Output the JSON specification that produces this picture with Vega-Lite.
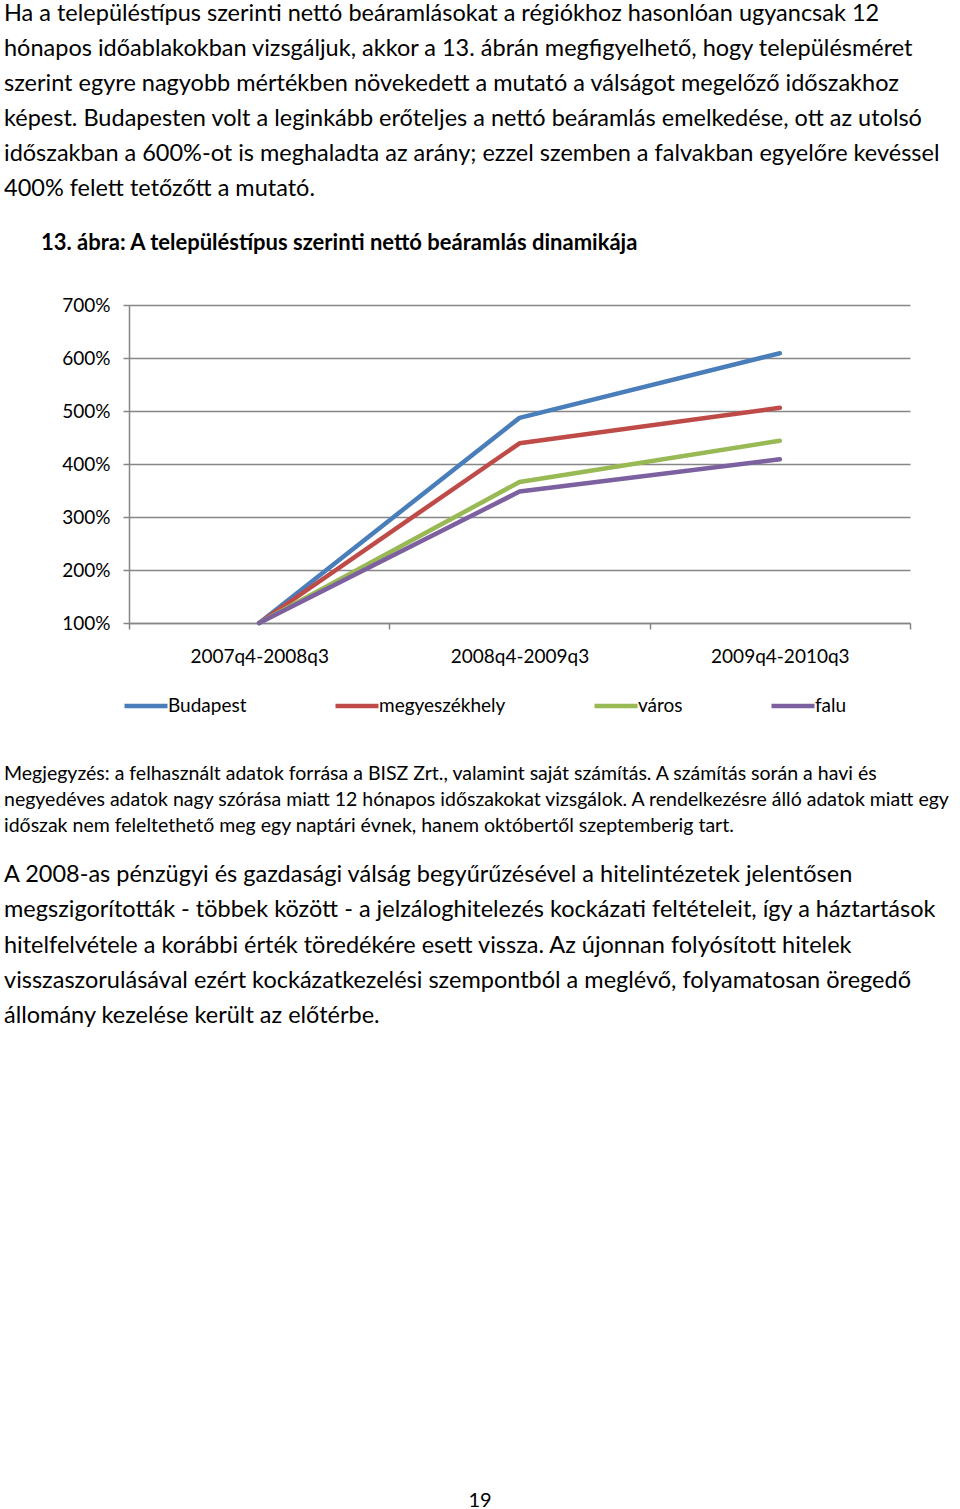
{
  "$schema": "https://vega.github.io/schema/vega-lite/v6.json",
  "background": "white",
  "padding": {"left": 4, "top": 0, "right": 0, "bottom": 0},
  "spacing": 0,
  "bounds": "flush",
  "config": {"view": {"stroke": null}, "font": "Lato"},
  "vconcat": [
    {
      "width": 781,
      "height": 305,
      "data": {"values": [
        {"line": 1, "text": "Ha a településtípus szerinti nettó beáramlásokat a régiókhoz hasonlóan ugyancsak 12"},
        {"line": 2, "text": "hónapos időablakokban vizsgáljuk, akkor a 13. ábrán megfigyelhető, hogy településméret"},
        {"line": 3, "text": "szerint egyre nagyobb mértékben növekedett a mutató a válságot megelőző időszakhoz"},
        {"line": 4, "text": "képest. Budapesten volt a leginkább erőteljes a nettó beáramlás emelkedése, ott az utolsó"},
        {"line": 5, "text": "időszakban a 600%-ot is meghaladta az arány; ezzel szemben a falvakban egyelőre kevéssel"},
        {"line": 6, "text": "400% felett tetőzőtt a mutató."}
      ]},
      "mark": {"type": "text", "align": "left", "baseline": "middle", "fontSize": 23.5, "font": "Lato", "color": "#000000"},
      "encoding": {
        "x": {"value": -125},
        "y": {"field": "line", "type": "ordinal", "scale": {"type": "point", "padding": 0, "range": [13.5, 189]}, "axis": null},
        "text": {"field": "text"}
      }
    },
    {
      "width": 781,
      "height": 318,
      "title": {
        "text": "13. ábra: A településtípus szerinti nettó beáramlás dinamikája",
        "anchor": "start",
        "frame": "group",
        "dx": -88,
        "offset": 41,
        "fontSize": 22,
        "fontWeight": "bold",
        "font": "Lato",
        "color": "#000000"
      },
      "data": {"values": [
        {"period": "2007q4-2008q3", "type": "Budapest", "value": 1},
        {"period": "2008q4-2009q3", "type": "Budapest", "value": 4.87},
        {"period": "2009q4-2010q3", "type": "Budapest", "value": 6.09},
        {"period": "2007q4-2008q3", "type": "megyeszékhely", "value": 1},
        {"period": "2008q4-2009q3", "type": "megyeszékhely", "value": 4.39},
        {"period": "2009q4-2010q3", "type": "megyeszékhely", "value": 5.06},
        {"period": "2007q4-2008q3", "type": "város", "value": 1},
        {"period": "2008q4-2009q3", "type": "város", "value": 3.66},
        {"period": "2009q4-2010q3", "type": "város", "value": 4.44},
        {"period": "2007q4-2008q3", "type": "falu", "value": 1},
        {"period": "2008q4-2009q3", "type": "falu", "value": 3.48},
        {"period": "2009q4-2010q3", "type": "falu", "value": 4.09}
      ]},
      "mark": {"type": "line", "strokeWidth": 4.5, "strokeCap": "round", "strokeJoin": "round"},
      "encoding": {
        "x": {
          "field": "period", "type": "ordinal",
          "sort": ["2007q4-2008q3", "2008q4-2009q3", "2009q4-2010q3"],
          "bandPosition": 0.5,
          "scale": {"type": "band", "paddingInner": 0, "paddingOuter": 0},
          "axis": {
            "title": null, "labelAngle": 0, "tickBand": "extent",
            "domainColor": "#868686", "domainWidth": 1.5, "tickColor": "#868686", "tickWidth": 1.5, "tickSize": 6,
            "labelFontSize": 19, "labelPadding": 18, "labelColor": "#000000", "labelFont": "Lato"
          }
        },
        "y": {
          "field": "value", "type": "quantitative",
          "scale": {"domain": [1, 7], "nice": false, "zero": false},
          "axis": {
            "title": null, "values": [1, 2, 3, 4, 5, 6, 7], "format": ".0%",
            "grid": true, "gridColor": "#868686", "gridWidth": 1.5,
            "domainColor": "#868686", "domainWidth": 1.5, "tickColor": "#868686", "tickWidth": 1.5, "tickSize": 6,
            "labelPadding": 13, "labelFontSize": 19, "labelColor": "#000000", "labelFont": "Lato"
          }
        },
        "color": {
          "field": "type", "type": "nominal",
          "sort": ["Budapest", "megyeszékhely", "város", "falu"],
          "scale": {"domain": ["Budapest", "megyeszékhely", "város", "falu"], "range": ["#4A7EBB", "#BE4B48", "#98B954", "#7D60A0"]},
          "legend": {
            "title": null, "orient": "none", "legendX": -7, "legendY": 682,
            "direction": "horizontal", "symbolType": "stroke", "symbolSize": 1849,
            "symbolStrokeWidth": 4.5, "labelFontSize": 19, "labelOffset": -2,
            "columnPadding": 79, "labelColor": "#000000", "labelFont": "Lato", "padding": 0
          }
        }
      }
    },
    {
      "width": 781,
      "height": 886,
      "layer": [
        {
          "data": {"values": [
            {"line": 1, "text": "Megjegyzés: a felhasznált adatok forrása a BISZ Zrt., valamint saját számítás. A számítás során a havi és"},
            {"line": 2, "text": "negyedéves adatok nagy szórása miatt 12 hónapos időszakokat vizsgálok. A rendelkezésre álló adatok miatt egy"},
            {"line": 3, "text": "időszak nem feleltethető meg egy naptári évnek, hanem októbertől szeptemberig tart."}
          ]},
          "mark": {"type": "text", "align": "left", "baseline": "middle", "fontSize": 19.5, "font": "Lato", "color": "#000000"},
          "encoding": {
            "x": {"value": -125},
            "y": {"field": "line", "type": "ordinal", "scale": {"type": "point", "padding": 0, "range": [151, 203]}, "axis": null},
            "text": {"field": "text"}
          }
        },
        {
          "data": {"values": [
            {"line": 1, "text": "A 2008-as pénzügyi és gazdasági válság begyűrűzésével a hitelintézetek jelentősen"},
            {"line": 2, "text": "megszigorították - többek között - a jelzáloghitelezés kockázati feltételeit, így a háztartások"},
            {"line": 3, "text": "hitelfelvétele a korábbi érték töredékére esett vissza. Az újonnan folyósított hitelek"},
            {"line": 4, "text": "visszaszorulásával ezért kockázatkezelési szempontból a meglévő, folyamatosan öregedő"},
            {"line": 5, "text": "állomány kezelése került az előtérbe."}
          ]},
          "mark": {"type": "text", "align": "left", "baseline": "middle", "fontSize": 23.5, "font": "Lato", "color": "#000000"},
          "encoding": {
            "x": {"value": -125},
            "y": {"field": "line", "type": "ordinal", "scale": {"type": "point", "padding": 0, "range": [252, 393]}, "axis": null},
            "text": {"field": "text"}
          }
        },
        {
          "data": {"values": [{"text": "19"}]},
          "mark": {"type": "text", "align": "center", "baseline": "middle", "fontSize": 20, "font": "Lato", "color": "#000000"},
          "encoding": {
            "x": {"value": 351},
            "y": {"value": 878},
            "text": {"field": "text"}
          }
        }
      ],
      "resolve": {"scale": {"y": "independent"}}
    }
  ]
}
